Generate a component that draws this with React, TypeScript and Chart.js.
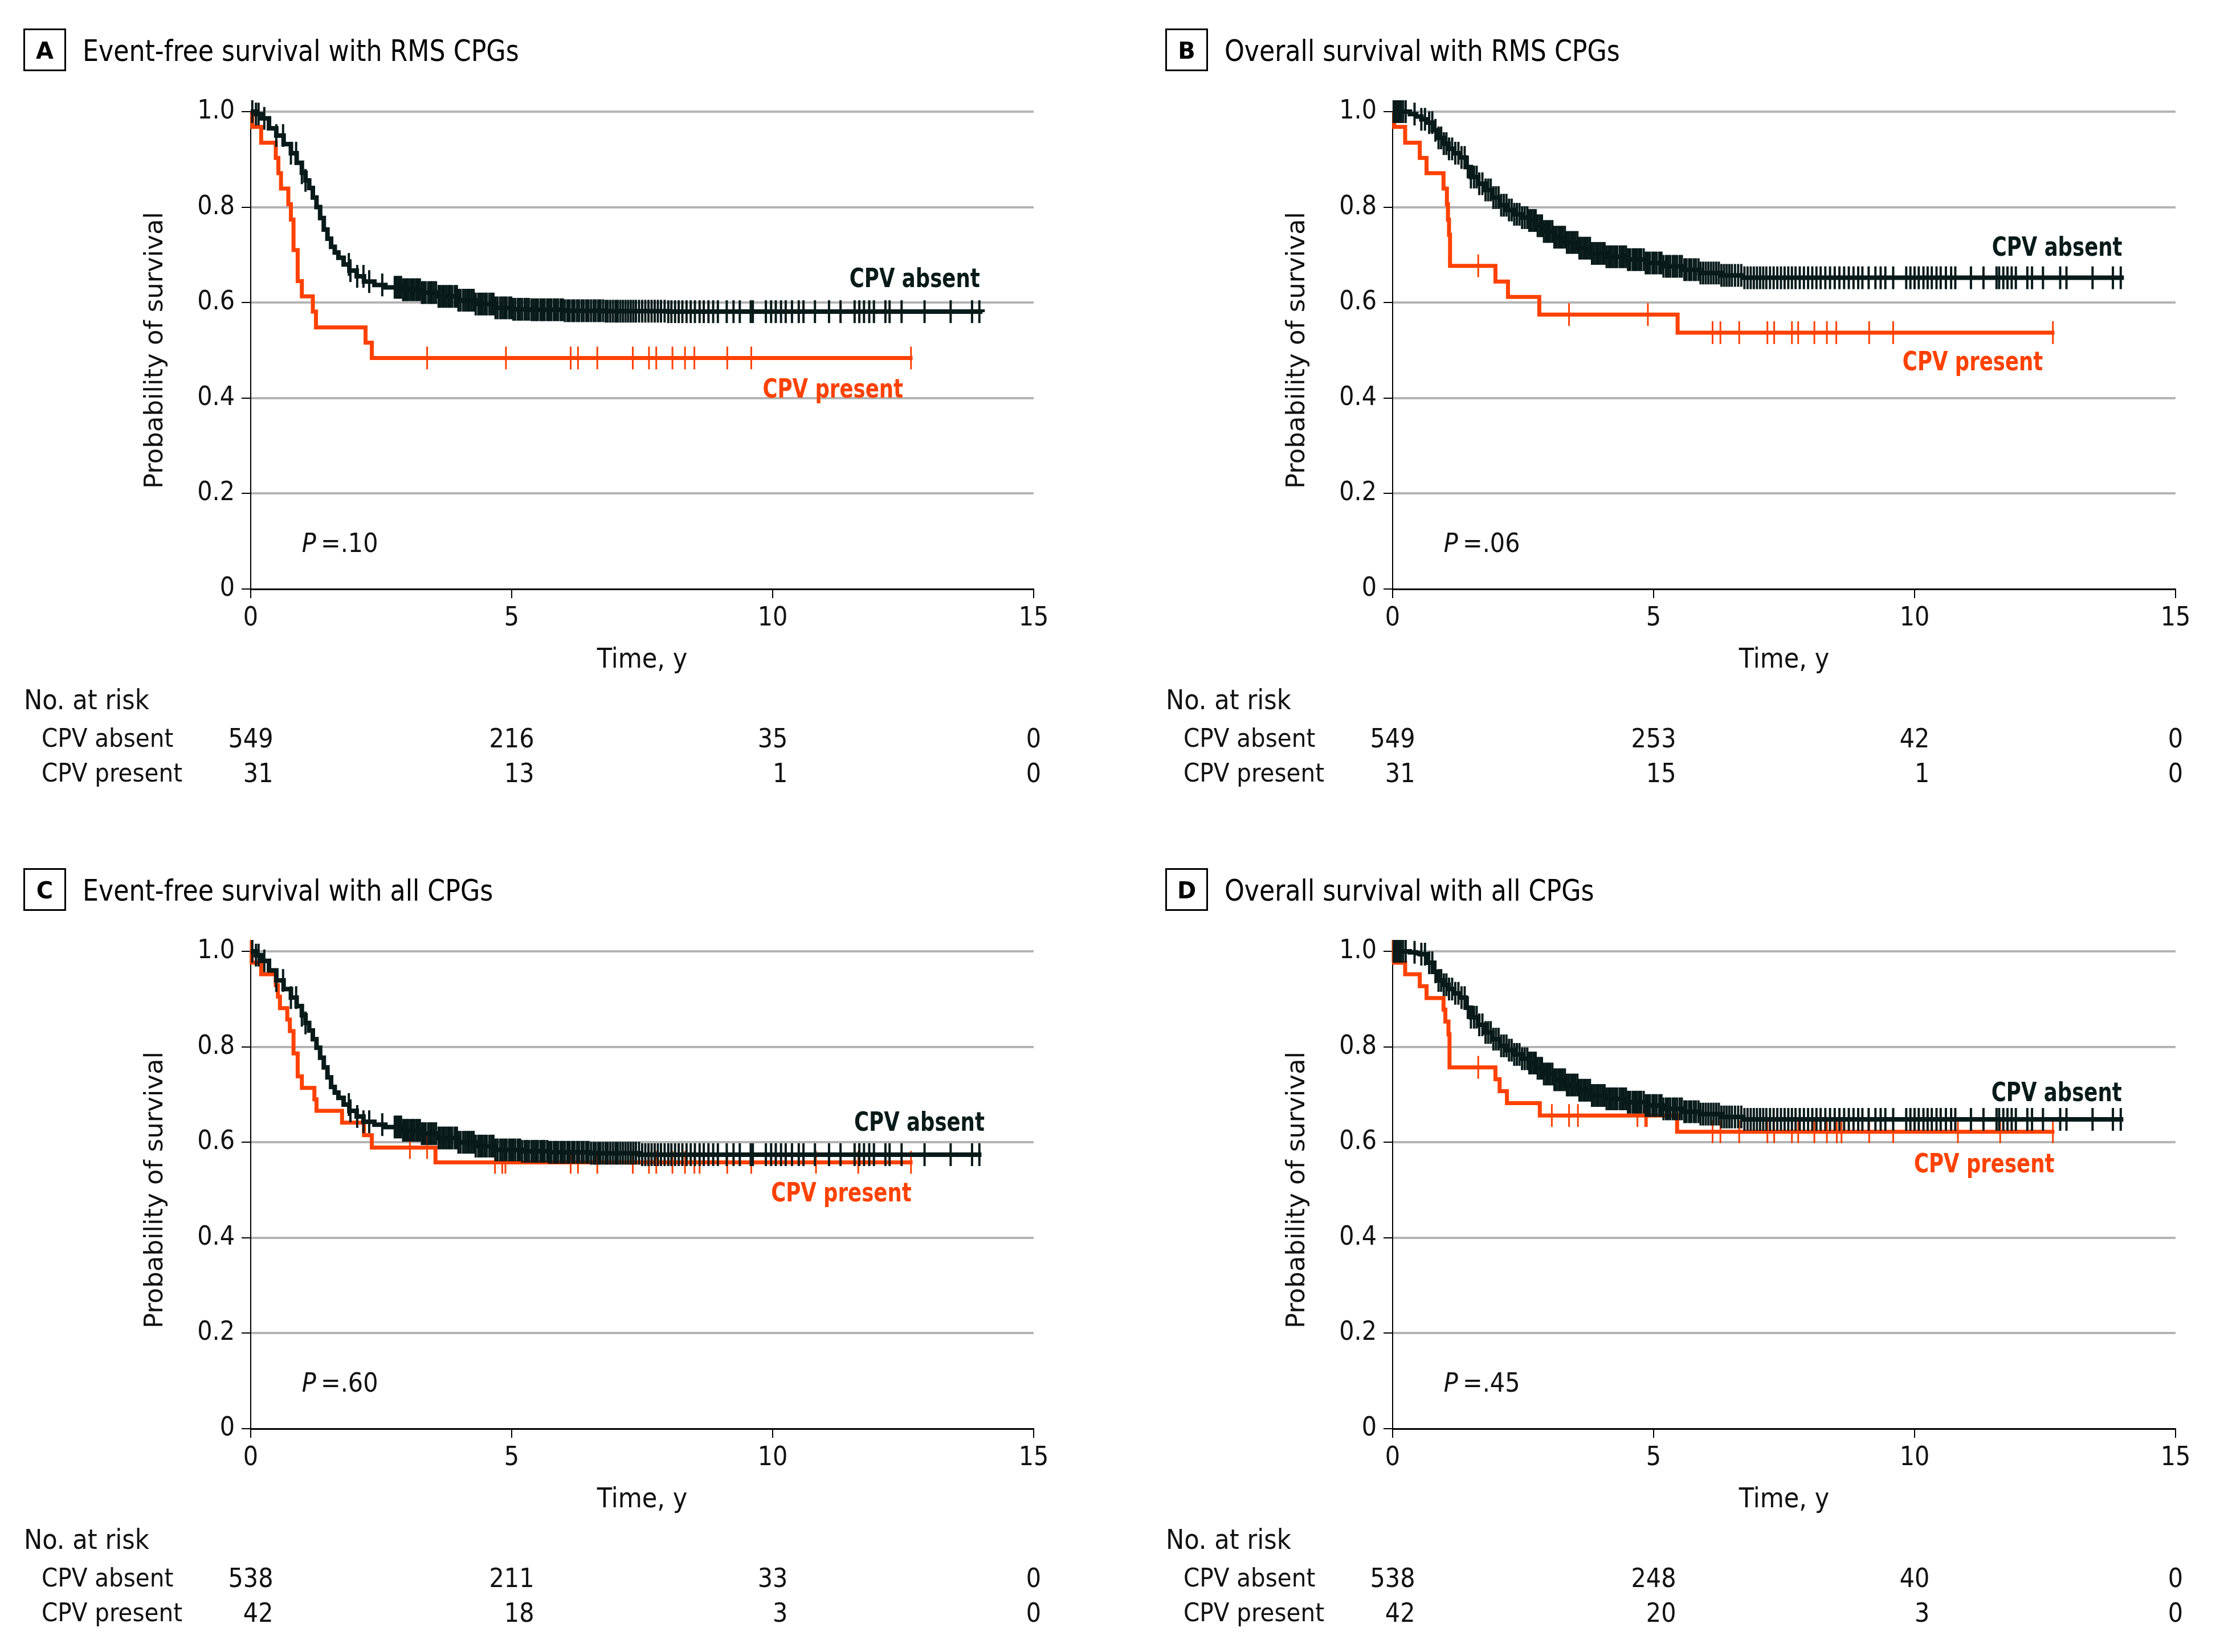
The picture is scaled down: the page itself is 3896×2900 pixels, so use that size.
import React, { useEffect, useRef } from 'react';
import { Chart, registerables } from 'chart.js';

Chart.register(...registerables);

type Pt = [number, number];

// ---------- shared ----------
const riskTimes = [0, 5, 10, 15];

// ---------- Panel A : Event-free survival with RMS CPGs ----------
const titleA = 'Event-free survival with RMS CPGs';
const absentA: Pt[] = [
  [0, 1.0], [0.1, 0.995], [0.21, 0.986], [0.35, 0.965], [0.49, 0.95], [0.63, 0.932], [0.77, 0.913],
  [0.88, 0.893], [0.98, 0.872], [1.05, 0.856], [1.12, 0.84], [1.19, 0.82], [1.26, 0.8], [1.33, 0.777],
  [1.4, 0.753], [1.47, 0.734], [1.54, 0.717], [1.61, 0.705], [1.68, 0.694], [1.78, 0.68], [1.89, 0.667],
  [2.03, 0.655], [2.17, 0.644], [2.37, 0.637], [2.58, 0.632], [2.9, 0.627], [3.28, 0.621], [3.6, 0.613],
  [3.97, 0.605], [4.3, 0.597], [4.67, 0.589], [5.0, 0.586], [5.37, 0.585], [6.0, 0.583], [6.76, 0.582],
  [8.0, 0.581], [14.02, 0.58],
];
const presentA: Pt[] = [
  [0, 1.0], [0.03, 0.968], [0.2, 0.935], [0.48, 0.903], [0.53, 0.871], [0.58, 0.839], [0.72, 0.806],
  [0.77, 0.774], [0.82, 0.71], [0.9, 0.645], [0.98, 0.613], [1.19, 0.581], [1.25, 0.548], [2.2, 0.516],
  [2.32, 0.484], [12.68, 0.484],
];
const censorPresentA = [3.38, 4.89, 6.13, 6.27, 6.64, 7.32, 7.63, 7.77, 8.08, 8.32, 8.5, 9.13, 9.59, 12.65];
const riskAbsentA = [549, 216, 35, 0];
const riskPresentA = [31, 13, 1, 0];
const pValueA = '.10';

// ---------- Panel B : Overall survival with RMS CPGs ----------
const titleB = 'Overall survival with RMS CPGs';
const absentB: Pt[] = [
  [0, 1.0], [0.33, 0.995], [0.45, 0.99], [0.55, 0.984], [0.66, 0.977], [0.77, 0.961], [0.87, 0.945],
  [0.97, 0.933], [1.07, 0.922], [1.18, 0.913], [1.29, 0.904], [1.4, 0.884], [1.5, 0.863], [1.64, 0.849],
  [1.78, 0.836], [1.91, 0.82], [2.05, 0.804], [2.19, 0.794], [2.33, 0.785], [2.47, 0.778], [2.61, 0.772],
  [2.75, 0.761], [2.89, 0.749], [3.1, 0.737], [3.31, 0.726], [3.55, 0.714], [3.79, 0.703], [4.1, 0.696],
  [4.49, 0.69], [4.85, 0.683], [5.19, 0.676], [5.55, 0.669], [5.88, 0.662], [6.3, 0.657], [6.7, 0.652],
  [14.01, 0.652],
];
const presentB: Pt[] = [
  [0, 1.0], [0.03, 0.968], [0.24, 0.935], [0.52, 0.903], [0.65, 0.871], [0.975, 0.839], [1.04, 0.806],
  [1.06, 0.774], [1.08, 0.742], [1.1, 0.677], [1.97, 0.644], [2.21, 0.612], [2.81, 0.575], [5.46, 0.537],
  [12.68, 0.537],
];
const censorPresentB = [1.64, 3.38, 4.89, 6.13, 6.28, 6.64, 7.18, 7.31, 7.65, 7.77, 8.08, 8.32, 8.5, 9.13, 9.59, 12.65];
const riskAbsentB = [549, 253, 42, 0];
const riskPresentB = [31, 15, 1, 0];
const pValueB = '.06';

// ---------- Panel C : Event-free survival with all CPGs ----------
const titleC = 'Event-free survival with all CPGs';
const absentC: Pt[] = [
  [0, 1.0], [0.1, 0.992], [0.21, 0.98], [0.35, 0.96], [0.49, 0.939], [0.63, 0.921], [0.77, 0.903],
  [0.88, 0.885], [0.98, 0.866], [1.05, 0.85], [1.12, 0.834], [1.19, 0.816], [1.26, 0.798], [1.33, 0.777],
  [1.4, 0.757], [1.47, 0.736], [1.54, 0.716], [1.61, 0.704], [1.68, 0.693], [1.78, 0.679], [1.89, 0.666],
  [2.03, 0.654], [2.16, 0.643], [2.37, 0.637], [2.58, 0.632], [2.9, 0.625], [3.28, 0.618], [3.6, 0.609],
  [3.97, 0.6], [4.3, 0.592], [4.67, 0.584], [5.2, 0.581], [5.71, 0.579], [6.5, 0.577], [7.45, 0.574],
  [14.0, 0.574],
];
const presentC: Pt[] = [
  [0, 1.0], [0.02, 0.976], [0.2, 0.952], [0.48, 0.929], [0.52, 0.905], [0.56, 0.881], [0.7, 0.857],
  [0.75, 0.833], [0.82, 0.786], [0.9, 0.738], [0.98, 0.714], [1.22, 0.69], [1.26, 0.666], [1.75, 0.641],
  [2.17, 0.615], [2.32, 0.589], [3.54, 0.558], [12.68, 0.558],
];
const censorPresentC = [0, 3.05, 3.38, 4.68, 4.82, 4.88, 6.13, 6.27, 6.64, 7.32, 7.63, 7.77, 8.08, 8.32, 8.5, 8.6, 9.13, 9.59, 10.83, 11.64, 12.65];
const riskAbsentC = [538, 211, 33, 0];
const riskPresentC = [42, 18, 3, 0];
const pValueC = '.60';

// ---------- Panel D : Overall survival with all CPGs ----------
const titleD = 'Overall survival with all CPGs';
const absentD: Pt[] = [
  [0, 1.0], [0.33, 0.998], [0.45, 0.996], [0.52, 0.994], [0.66, 0.976], [0.77, 0.957], [0.87, 0.939],
  [0.97, 0.93], [1.07, 0.921], [1.18, 0.912], [1.29, 0.903], [1.4, 0.882], [1.5, 0.862], [1.64, 0.846],
  [1.78, 0.83], [1.91, 0.816], [2.05, 0.802], [2.19, 0.793], [2.33, 0.784], [2.47, 0.775], [2.61, 0.766],
  [2.75, 0.755], [2.89, 0.743], [3.1, 0.731], [3.31, 0.72], [3.55, 0.709], [3.79, 0.698], [4.1, 0.691],
  [4.49, 0.684], [4.85, 0.677], [5.19, 0.67], [5.55, 0.664], [5.88, 0.659], [6.3, 0.653], [6.72, 0.648],
  [14.0, 0.648],
];
const presentD: Pt[] = [
  [0, 1.0], [0.03, 0.976], [0.24, 0.952], [0.52, 0.927], [0.65, 0.902], [0.975, 0.878], [1.01, 0.853],
  [1.07, 0.826], [1.09, 0.757], [1.97, 0.732], [2.05, 0.707], [2.19, 0.682], [2.82, 0.656], [5.45, 0.622],
  [12.68, 0.622],
];
const censorPresentD = [0, 1.64, 3.05, 3.38, 3.55, 4.69, 4.84, 4.87, 6.13, 6.28, 6.64, 7.18, 7.31, 7.65, 7.77, 8.08, 8.32, 8.51, 8.6, 9.13, 9.59, 10.83, 11.64, 12.65];
const riskAbsentD = [538, 248, 40, 0];
const riskPresentD = [42, 20, 3, 0];
const pValueD = '.45';

// censored observations, CPV absent (event-free panels A and C, overall panels B and D)
const censorAbsentEFS = [
  0.03, 0.1, 0.15, 0.26, 0.49, 0.62, 0.77, 0.87, 0.98, 1.05, 1.88, 1.91, 2.04, 2.16, 2.27, 2.52,
  2.76, 2.79, 2.82, 2.85, 2.88, 2.92, 2.95, 2.99, 3.02, 3.06, 3.1, 3.13, 3.17, 3.2, 3.24, 3.28, 3.31,
  3.35, 3.4, 3.44, 3.47, 3.51, 3.55, 3.6, 3.63, 3.67, 3.71, 3.75, 3.79, 3.82, 3.86, 3.91, 3.95, 3.98,
  4.02, 4.07, 4.11, 4.15, 4.19, 4.23, 4.27, 4.31, 4.36, 4.4, 4.44, 4.48, 4.52, 4.57, 4.61, 4.65, 4.69,
  4.73, 4.78, 4.82, 4.86, 4.9, 4.95, 4.99, 5.03, 5.07, 5.12, 5.16, 5.2, 5.25, 5.29, 5.33, 5.38, 5.42,
  5.46, 5.5, 5.55, 5.59, 5.63, 5.68, 5.72, 5.76, 5.81, 5.85, 5.89, 5.94, 5.98, 6.02, 6.07, 6.11, 6.16,
  6.2, 6.25, 6.29, 6.34, 6.38, 6.43, 6.47, 6.52, 6.57, 6.61, 6.66, 6.7, 6.75, 6.8, 6.84, 6.89, 6.94,
  6.99, 7.03, 7.08, 7.13, 7.18, 7.23, 7.28, 7.33, 7.38, 7.44, 7.5, 7.56, 7.62, 7.68, 7.74, 7.8, 7.86,
  7.93, 8.0, 8.06, 8.13, 8.2, 8.27, 8.35, 8.43, 8.51, 8.6, 8.68, 8.77, 8.86, 8.95,
  9.12, 9.25, 9.37, 9.58, 9.62, 9.87, 9.97, 10.06, 10.16, 10.25, 10.37, 10.5, 10.59, 10.81,
  11.08, 11.3, 11.57, 11.66, 11.75, 11.85, 11.94, 12.16, 12.24, 12.47, 12.91, 13.41, 13.82, 13.96,
];
const censorAbsentOS = [
  0.02, 0.05, 0.08, 0.12, 0.16, 0.2, 0.25, 0.42, 0.55, 0.62, 0.7, 0.76, 0.82, 0.88, 0.93, 0.98, 1.03,
  1.08, 1.14, 1.2, 1.26, 1.32, 1.38, 1.44, 1.5, 1.56, 1.61, 1.66, 1.72, 1.78, 1.83, 1.88, 1.93, 1.98,
  2.03, 2.08, 2.13, 2.18, 2.23, 2.28, 2.33, 2.38, 2.43, 2.48, 2.53, 2.58, 2.62, 2.66, 2.7, 2.74, 2.78,
  2.82, 2.86, 2.9, 2.94, 2.98, 3.02, 3.06, 3.1, 3.14, 3.18, 3.22, 3.26, 3.3, 3.34, 3.38, 3.42, 3.46,
  3.5, 3.54, 3.58, 3.62, 3.66, 3.7, 3.74, 3.78, 3.82, 3.86, 3.9, 3.94, 3.98, 4.02, 4.06, 4.1, 4.14,
  4.18, 4.22, 4.26, 4.3, 4.35, 4.39, 4.43, 4.47, 4.51, 4.55, 4.6, 4.64, 4.68, 4.72, 4.76, 4.81, 4.85,
  4.89, 4.93, 4.98, 5.02, 5.06, 5.11, 5.15, 5.19, 5.24, 5.28, 5.32, 5.37, 5.41, 5.45, 5.5, 5.54, 5.59,
  5.63, 5.68, 5.72, 5.77, 5.81, 5.86, 5.9, 5.95, 6.0, 6.05, 6.1, 6.15, 6.2, 6.25, 6.3, 6.35, 6.4, 6.45,
  6.5, 6.56, 6.62, 6.68, 6.74, 6.8, 6.86, 6.92, 6.98, 7.04, 7.1, 7.16, 7.23, 7.3, 7.37, 7.44, 7.51,
  7.58, 7.65, 7.72, 7.8, 7.88, 7.96, 8.04, 8.12, 8.2, 8.29, 8.38, 8.47, 8.56, 8.65, 8.74, 8.83, 8.92,
  9.0, 9.12, 9.25, 9.35, 9.44, 9.59, 9.84, 9.92, 10.0, 10.08, 10.17, 10.25, 10.33, 10.42, 10.5, 10.6,
  10.7, 10.78, 11.08, 11.32, 11.57, 11.62, 11.7, 11.78, 11.86, 11.94, 12.16, 12.25, 12.46, 12.79, 12.91,
  13.41, 13.8, 13.95,
];

// ---------- styling / layout ----------
const DARK = '#081a1a';
const ORANGE = '#ff4100';
const GRID = '#b4b4b4';
const TXT = '#111111';
const CF = '"DejaVu Sans Condensed", "DejaVu Sans", sans-serif';
const W = 1880;
const H = 1420;
const PLOT_L = 440;
const PLOT_R = 1814;
const PLOT_T = 196;
const PLOT_B = 1034;

interface PanelCfg {
  letter: string;
  title: string;
  absent: Pt[];
  present: Pt[];
  censorAbsent: number[];
  censorPresent: number[];
  riskAbsent: number[];
  riskPresent: number[];
  p: string;
  absentLabelAt: Pt;
  presentLabelAt: Pt;
  left: number;
  top: number;
}

const PANELS: PanelCfg[] = [
  { letter: 'A', title: titleA, absent: absentA, present: presentA, censorAbsent: censorAbsentEFS, censorPresent: censorPresentA,
    riskAbsent: riskAbsentA, riskPresent: riskPresentA, p: pValueA, absentLabelAt: [13.97, 0.653], presentLabelAt: [12.5, 0.421], left: 0, top: 0 },
  { letter: 'B', title: titleB, absent: absentB, present: presentB, censorAbsent: censorAbsentOS, censorPresent: censorPresentB,
    riskAbsent: riskAbsentB, riskPresent: riskPresentB, p: pValueB, absentLabelAt: [13.98, 0.719], presentLabelAt: [12.46, 0.479], left: 2004, top: 0 },
  { letter: 'C', title: titleC, absent: absentC, present: presentC, censorAbsent: censorAbsentEFS, censorPresent: censorPresentC,
    riskAbsent: riskAbsentC, riskPresent: riskPresentC, p: pValueC, absentLabelAt: [14.06, 0.644], presentLabelAt: [12.66, 0.497], left: 0, top: 1474 },
  { letter: 'D', title: titleD, absent: absentD, present: presentD, censorAbsent: censorAbsentOS, censorPresent: censorPresentD,
    riskAbsent: riskAbsentD, riskPresent: riskPresentD, p: pValueD, absentLabelAt: [13.97, 0.707], presentLabelAt: [12.68, 0.558], left: 2004, top: 1474 },
];

function survAt(curve: Pt[], t: number): number {
  let s = curve[0][1];
  for (const [ti, si] of curve) {
    if (ti <= t) s = si;
    else break;
  }
  return s;
}

function drawText(
  ctx: CanvasRenderingContext2D,
  s: string,
  x: number,
  yMid: number,
  size: number,
  o: { family?: string; weight?: string; style?: string; color?: string; align?: CanvasTextAlign; sx?: number } = {}
) {
  ctx.save();
  ctx.font = `${o.style || 'normal'} ${o.weight || 'normal'} ${size}px ${o.family || CF}`;
  ctx.fillStyle = o.color || TXT;
  ctx.textAlign = o.align || 'left';
  ctx.textBaseline = 'alphabetic';
  ctx.translate(x, yMid + 0.364 * size);
  ctx.scale(o.sx || 1, 1);
  ctx.fillText(s, 0, 0);
  ctx.restore();
}

function measure(ctx: CanvasRenderingContext2D, s: string, size: number, style = 'normal'): number {
  ctx.save();
  ctx.font = `${style} normal ${size}px ${CF}`;
  const w = ctx.measureText(s).width;
  ctx.restore();
  return w;
}

function buildConfig(cfg: PanelCfg): any {
  const toXY = (c: Pt[]) => c.map(([x, y]) => ({ x, y }));
  const censorPts = (times: number[], curve: Pt[]) => times.map((t) => ({ x: t, y: survAt(curve, t) }));

  const decor = {
    id: 'kmDecor',
    afterDraw(chart: any) {
      const ctx: CanvasRenderingContext2D = chart.ctx;
      const xs = chart.scales.x;
      const ys = chart.scales.y;
      ctx.save();
      // panel letter box
      ctx.strokeStyle = '#000';
      ctx.lineWidth = 3;
      ctx.strokeRect(42.5, 51.5, 72, 72);
      drawText(ctx, cfg.letter, 78.5, 88, 40, { family: '"DejaVu Sans", sans-serif', weight: 'bold', align: 'center', color: '#000' });
      // title
      drawText(ctx, cfg.title, 145, 88, 51, { sx: 0.965, color: '#000' });

      // P value
      const px = xs.getPixelForValue(0.98);
      const py = ys.getPixelForValue(0.097);
      drawText(ctx, 'P', px, py, 46, { style: 'italic' });
      const pw = measure(ctx, 'P', 46, 'italic');
      drawText(ctx, '\u2009=' + cfg.p, px + pw, py, 46);

      // curve labels
      drawText(ctx, 'CPV absent', xs.getPixelForValue(cfg.absentLabelAt[0]), ys.getPixelForValue(cfg.absentLabelAt[1]), 47,
        { weight: 'bold', color: DARK, align: 'right', sx: 0.84 });
      drawText(ctx, 'CPV present', xs.getPixelForValue(cfg.presentLabelAt[0]), ys.getPixelForValue(cfg.presentLabelAt[1]), 47,
        { weight: 'bold', color: ORANGE, align: 'right', sx: 0.84 });

      // number at risk table
      const base = chart.chartArea.bottom;
      drawText(ctx, 'No. at risk', 42, base + 194, 48);
      drawText(ctx, 'CPV absent', 73, base + 261, 45);
      drawText(ctx, 'CPV present', 73, base + 322, 45);
      riskTimes.forEach((t, i) => {
        const a = String(cfg.riskAbsent[i]);
        const b = String(cfg.riskPresent[i]);
        const w = Math.max(measure(ctx, a, 46), measure(ctx, b, 46));
        const right = xs.getPixelForValue(t) + w / 2;
        drawText(ctx, a, right, base + 261, 46, { align: 'right' });
        drawText(ctx, b, right, base + 322, 46, { align: 'right' });
      });
      ctx.restore();
    },
  };

  return {
    type: 'line',
    data: {
      datasets: [
        {
          data: censorPts(cfg.censorAbsent, cfg.absent),
          showLine: false,
          pointStyle: 'line',
          rotation: 90,
          pointRadius: 20,
          pointBorderWidth: 4,
          pointBorderColor: DARK,
          borderColor: DARK,
          clip: false,
        },
        {
          data: toXY(cfg.absent),
          stepped: 'before',
          borderColor: DARK,
          borderWidth: 8,
          pointRadius: 0,
          fill: false,
          clip: false,
        },
        {
          data: censorPts(cfg.censorPresent, cfg.present),
          showLine: false,
          pointStyle: 'line',
          rotation: 90,
          pointRadius: 20,
          pointBorderWidth: 3,
          pointBorderColor: ORANGE,
          borderColor: ORANGE,
          clip: false,
        },
        {
          data: toXY(cfg.present),
          stepped: 'before',
          borderColor: ORANGE,
          borderWidth: 7,
          pointRadius: 0,
          fill: false,
          clip: false,
        },
      ],
    },
    options: {
      responsive: false,
      animation: false,
      devicePixelRatio: 1,
      events: [],
      layout: { padding: { left: 0, top: PLOT_T, right: W - PLOT_R, bottom: 0 } },
      plugins: { legend: { display: false }, tooltip: { enabled: false } },
      scales: {
        x: {
          type: 'linear',
          min: 0,
          max: 15,
          ticks: { stepSize: 5, font: { family: CF, size: 46 }, color: TXT, padding: 8, maxRotation: 0, autoSkip: false },
          grid: { drawOnChartArea: false, drawTicks: true, tickLength: 16, color: '#000', lineWidth: 2 },
          border: { display: true, color: '#000', width: 3 },
          title: {
            display: true,
            text: 'Time, y',
            font: { family: CF, size: 48 },
            color: TXT,
            padding: { top: 0, bottom: H - 1160 - 28.8 },
          },
          afterFit: (s: any) => {
            s.height = H - PLOT_B;
          },
        },
        y: {
          min: 0,
          max: 1,
          ticks: {
            stepSize: 0.2,
            font: { family: CF, size: 46 },
            color: TXT,
            padding: 12,
            callback: (v: any) => (Number(v) === 0 ? '0' : Number(v).toFixed(1)),
          },
          grid: {
            color: (c: any) => (c.tick && c.tick.value === 0 ? 'rgba(0,0,0,0)' : GRID),
            lineWidth: 4,
            drawTicks: true,
            tickLength: 16,
            tickColor: '#000',
            tickWidth: 2,
          },
          border: { display: true, color: '#000', width: 2 },
          title: {
            display: true,
            text: 'Probability of survival',
            font: { family: '"DejaVu Sans", sans-serif', size: 45 },
            color: TXT,
            padding: { top: 273 - 27, bottom: 0 },
          },
          afterFit: (s: any) => {
            s.width = PLOT_L;
          },
        },
      },
    },
    plugins: [decor],
  };
}

function Panel({ cfg }: { cfg: PanelCfg }) {
  const ref = useRef<HTMLCanvasElement>(null);
  useEffect(() => {
    const canvas = ref.current;
    if (!canvas) return;
    const chart = new Chart(canvas, buildConfig(cfg));
    return () => chart.destroy();
  }, [cfg]);
  return (
    <canvas
      ref={ref}
      width={W}
      height={H}
      style={{ position: 'absolute', left: cfg.left, top: cfg.top, width: W, height: H }}
    />
  );
}

export default function App() {
  return (
    <div style={{ position: 'absolute', left: 0, top: 0, width: 3896, height: 2900, background: '#ffffff' }}>
      {PANELS.map((p) => (
        <Panel key={p.letter} cfg={p} />
      ))}
    </div>
  );
}
